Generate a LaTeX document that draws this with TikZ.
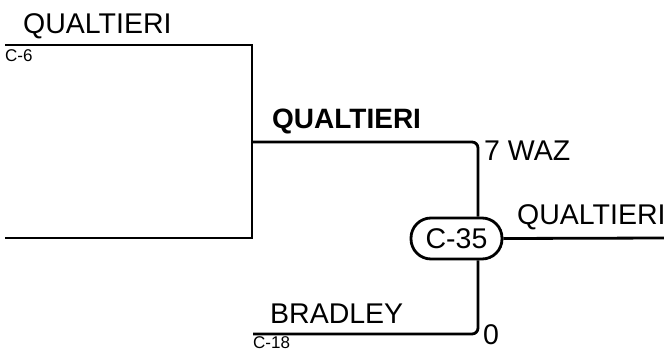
\documentclass[tikz,border=0pt]{standalone}
\usepackage{fontspec}
\setmainfont{Liberation Sans}
\begin{document}
\begin{tikzpicture}[x=1pt,y=-1pt,
  wire/.style={line width=2.8pt, line cap=butt},
  big/.style={inner sep=0pt, anchor=base west, font=\fontsize{28.5}{31}\selectfont},
  bigb/.style={big, font=\fontsize{28}{31}\selectfont\bfseries},
  small/.style={inner sep=0pt, anchor=base west, font=\fontsize{17}{19}\selectfont},
  gamebox/.style={draw, line width=2.8pt, rounded corners=20pt, minimum width=91pt, minimum height=41pt, inner sep=0pt, font=\fontsize{28.5}{31}\selectfont}]
\useasboundingbox (0,0) rectangle (664,351);
% coordinates
\coordinate (a1) at (5,45);
\coordinate (a2) at (252,45);
\coordinate (b1) at (5,238);
\coordinate (b2) at (252,238);
\coordinate (m1) at (252,142);
\coordinate (vx) at (478,0);
\coordinate (br) at (253,334);
\coordinate (out) at (664,238);
% game node
\node[gamebox] (c35) at (456.5,238.5) {C-35};
% labels
\node[big]  (t1) at (23,33) {QUALTIERI};
\node[small] (s1) at (5,61) {C-6};
\node[bigb] (t2) at (272,128) {QUALTIERI};
\node[big]  (t3) at (484,160) {7 WAZ};
\node[big]  (t4) at (517,224) {QUALTIERI};
\node[big]  (t5) at (270,323) {BRADLEY};
\node[small] (s2) at (253,348) {C-18};
\node[big]  (t6) at (483,344) {0};
% bracket lines
\draw[wire] (a1) -- (a2) -- (b2) -- (b1);
\draw[wire, rounded corners=6pt] (m1) -| (c35.north -| vx);
\draw[wire, rounded corners=6pt] (br) -| (c35.south -| vx);
\draw[wire] (c35.east) -- (out);
\end{tikzpicture}
\end{document}
